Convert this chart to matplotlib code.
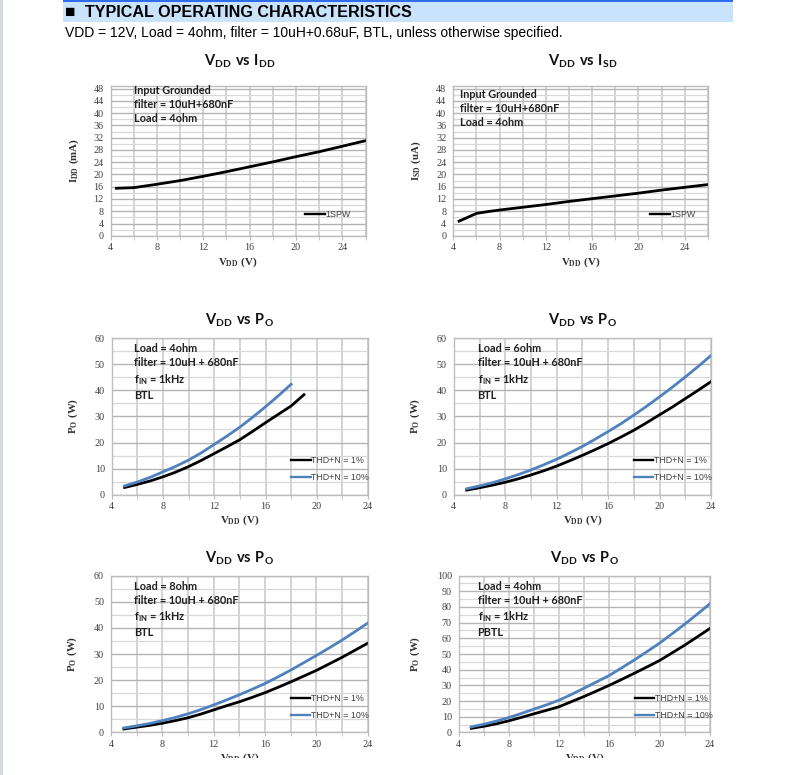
import matplotlib
matplotlib.use("Agg")
import matplotlib.pyplot as plt
from matplotlib.patches import Rectangle
from matplotlib.ticker import MultipleLocator

plt.rcParams["mathtext.fontset"] = "custom"
plt.rcParams["mathtext.rm"] = "Liberation Serif:bold"
plt.rcParams["mathtext.sf"] = "Lato:bold"
plt.rcParams["mathtext.bf"] = "Lato:bold"

# ---- data ----
vdd_idd = [4.5, 6, 8, 10, 12, 14, 16, 18, 20, 22, 24, 26]
idd_ma = [15.5, 15.7, 16.8, 18.0, 19.4, 20.9, 22.5, 24.1, 25.8, 27.4, 29.2, 31.0]

vdd_isd = [4.5, 5, 6, 7, 8, 10, 12, 14, 16, 18, 20, 22, 24, 26]
isd_ua = [4.8, 5.6, 7.3, 7.9, 8.4, 9.3, 10.2, 11.2, 12.1, 13.0, 13.9, 14.9, 15.8, 16.7]

# BTL 4ohm
vdd_4_1 = [5, 6, 7, 8, 9, 10, 11, 12, 13, 14, 15, 16, 17, 18, 19]
po_4_1 = [2.8, 4.0, 5.3, 6.9, 8.7, 10.8, 13.2, 15.8, 18.4, 21.1, 24.3, 27.6, 30.8, 34.0, 38.3]
vdd_4_10 = [5, 6, 7, 8, 9, 10, 11, 12, 13, 14, 15, 16, 17, 18]
po_4_10 = [3.4, 4.9, 6.7, 8.8, 10.9, 13.3, 16.1, 19.3, 22.5, 25.9, 29.7, 33.7, 37.9, 42.3]

vdd_full = [5, 6, 7, 8, 9, 10, 11, 12, 13, 14, 15, 16, 17, 18, 19, 20, 21, 22, 23, 24]
# BTL 6ohm
po_6_1 = [1.8, 2.7, 3.7, 4.8, 6.1, 7.6, 9.2, 11.0, 13.0, 15.1, 17.3, 19.6, 22.1, 24.7, 27.6, 30.6, 33.6, 36.8, 40.0, 43.3]
po_6_10 = [2.3, 3.4, 4.6, 6.1, 7.7, 9.5, 11.5, 13.6, 16.0, 18.5, 21.3, 24.2, 27.2, 30.5, 33.9, 37.5, 41.2, 45.1, 49.1, 53.3]
# BTL 8ohm
po_8_1 = [1.3, 2.0, 2.7, 3.5, 4.5, 5.6, 7.0, 8.6, 10.2, 11.7, 13.4, 15.2, 17.2, 19.3, 21.5, 23.7, 26.2, 28.7, 31.4, 34.1]
po_8_10 = [1.7, 2.5, 3.4, 4.5, 5.7, 7.1, 8.7, 10.5, 12.4, 14.4, 16.5, 18.7, 21.2, 23.8, 26.6, 29.4, 32.3, 35.3, 38.5, 41.8]
# PBTL 4ohm
po_p4_1 = [2.6, 3.9, 5.5, 7.4, 9.6, 11.9, 14.1, 16.4, 19.7, 23.0, 26.5, 30.1, 33.9, 37.8, 41.8, 45.9, 50.8, 55.7, 61.0, 66.3]
po_p4_10 = [3.5, 5.2, 7.2, 9.5, 12.1, 14.9, 17.6, 20.6, 24.3, 28.3, 32.3, 36.4, 41.3, 46.3, 51.6, 57.0, 63.0, 69.1, 75.5, 82.1]

thd_labels = ["THD+N = 1%", "THD+N = 10%"]
note_idd = ["Input Grounded", "filter = 10uH+680nF", "Load = 4ohm"]

BLACK = "#000000"
BLUE = "#4f81bd"

W, H = 792, 775
fig = plt.figure(figsize=(W / 100, H / 100), dpi=100)


def add_ax(left, right, top, bottom):
    return fig.add_axes([left / W, 1 - bottom / H, (right - left) / W, (bottom - top) / H])


def style(ax, xmax, ymax, ymaj, ymin_step, xlabel, ylabel, ylab_px, xlab_px):
    ax.set_xlim(4, xmax)
    ax.set_ylim(0, ymax)
    ax.xaxis.set_major_locator(MultipleLocator(4))
    ax.xaxis.set_minor_locator(MultipleLocator(2))
    ax.yaxis.set_major_locator(MultipleLocator(ymaj))
    ax.yaxis.set_minor_locator(MultipleLocator(ymin_step))
    ax.grid(which="major", axis="y", color="#b4b4b4", lw=1.0)
    ax.grid(which="minor", axis="y", color="#d8d8d8", lw=0.9)
    ax.grid(which="both", axis="x", color="#d3d3d3", lw=1.4)
    ax.set_axisbelow(True)
    for s in ax.spines.values():
        s.set_color("#bdbdbd")
        s.set_linewidth(1.0)
    ax.tick_params(axis="x", which="both", direction="out", length=3, color="#bdbdbd", pad=2.5)
    ax.tick_params(axis="y", which="both", length=0, pad=5)
    for lab in ax.get_xticklabels() + ax.get_yticklabels():
        lab.set_fontfamily("Liberation Serif")
        lab.set_fontsize(7.3)
        lab.set_color("#404040")
    ax.set_xlabel(xlabel, fontsize=7.8, color="#303030")
    ax.set_ylabel(ylabel, fontsize=7.8, color="#303030")
    bb = ax.get_position()
    ax.yaxis.set_label_coords(-ylab_px / (bb.width * W), 0.5)
    ax.xaxis.set_label_coords(0.5, -xlab_px / (bb.height * H))


def note(ax, x, y, lines):
    ax.text(x, y, "\n".join(lines), fontsize=7.8, fontfamily="Lato", fontweight="bold",
            color="#202020", va="top", ha="left", linespacing=1.33)


def legend(ax, x, y, spacing=0.75):
    leg = ax.legend(loc="center left", bbox_to_anchor=(x, y), frameon=False,
                    borderpad=0, borderaxespad=0, handlelength=2.2, handletextpad=0.05,
                    labelspacing=spacing, prop={"family": "Liberation Sans", "size": 6.4})
    for t in leg.get_texts():
        t.set_color("#404040")
    for h in leg.get_lines():
        h.set_linewidth(1.7)


def title(x, y, s):
    fig.text(x / W, 1 - y / H, s, fontsize=10.5, ha="center", va="center", color="#111111")


# ---- header ----
fig.add_artist(Rectangle((0, 0), 2.5 / W, 1, transform=fig.transFigure, color="#d5dbe0", lw=0))
fig.add_artist(Rectangle((63 / W, 1 - 22 / H), 670 / W, 22 / H, transform=fig.transFigure,
                         color="#c9e3fd", lw=0))
fig.add_artist(Rectangle((63 / W, 1 - 1.5 / H), 670 / W, 1.5 / H, transform=fig.transFigure,
                         color="#2f6cf0", lw=0))
fig.text(65 / W, 1 - 12.5 / H, "■", fontsize=12.5, family=["Liberation Sans", "DejaVu Sans"],
         va="center", ha="left")
fig.text(85 / W, 1 - 12.5 / H, "TYPICAL OPERATING CHARACTERISTICS", fontsize=11.6,
         family="Liberation Sans", fontweight="bold", va="center", ha="left")
fig.text(65 / W, 1 - 33.5 / H,
         "VDD = 12V, Load = 4ohm, filter = 10uH+0.68uF, BTL, unless otherwise specified.",
         fontsize=10, family="Liberation Sans", va="center", ha="left")

# ---- VDD vs IDD ----
ax = add_ax(110.6, 365.5, 85.5, 235.8)
ax.plot(vdd_idd, idd_ma, color=BLACK, lw=2.0, label="1SPW")
style(ax, 26, 49, 4, 2, r"$\mathrm{V_{DD}\ (V)}$", r"$\mathrm{I_{DD}\ (mA)}$", 30, 20)
note(ax, 6.0, 49.1, note_idd)
legend(ax, 0.764, 0.139)
title(240, 61, r"$\mathsf{V_{DD}\ vs\ I_{DD}}$")

# ---- VDD vs ISD ----
ax = add_ax(453.3, 707.8, 85.5, 235.8)
ax.plot(vdd_isd, isd_ua, color=BLACK, lw=2.0, label="1SPW")
style(ax, 26, 49, 4, 2, r"$\mathrm{V_{DD}\ (V)}$", r"$\mathrm{I_{SD}\ (uA)}$", 30, 20)
note(ax, 4.6, 47.9, note_idd)
legend(ax, 0.773, 0.139)
title(583, 61, r"$\mathsf{V_{DD}\ vs\ I_{SD}}$")


def po_panel(left, right, top, bottom, ymax, ymaj, ymin_step, y1, y10, x1, x10,
             lines, nx, ny, ly, ylab_px, ttl_y):
    ax = add_ax(left, right, top, bottom)
    ax.plot(x1, y1, color=BLACK, lw=2.0, label=thd_labels[0])
    ax.plot(x10, y10, color=BLUE, lw=2.0, label=thd_labels[1])
    style(ax, 24, ymax, ymaj, ymin_step, r"$\mathrm{V_{DD}\ (V)}$", r"$\mathrm{P_{O}\ (W)}$",
          ylab_px, 19)
    note(ax, nx, ny, lines)
    legend(ax, 0.70, ly, spacing=0.9)
    title((left + right) / 2, ttl_y, r"$\mathsf{V_{DD}\ vs\ P_{O}}$")
    return ax


fin = r"f$_{\mathsf{IN}}$ = 1kHz"
po_panel(111.8, 368, 338, 494.8, 60, 10, 5, po_4_1, po_4_10, vdd_4_1, vdd_4_10,
         ["Load = 4ohm", "filter = 10uH + 680nF", fin, "BTL"], 5.75, 57.9, 0.165, 32, 320)
po_panel(453.8, 711, 338, 494.8, 60, 10, 5, po_6_1, po_6_10, vdd_full, vdd_full,
         ["Load = 6ohm", "filter = 10uH + 680nF", fin, "BTL"], 5.85, 57.9, 0.165, 32, 320)
po_panel(111, 367.6, 575.6, 732.4, 60, 10, 5, po_8_1, po_8_10, vdd_full, vdd_full,
         ["Load = 8ohm", "filter = 10uH + 680nF", fin, "BTL"], 5.8, 58.0, 0.161, 32, 558)
po_panel(458.7, 710, 575.6, 732.4, 100, 10, 5, po_p4_1, po_p4_10, vdd_full, vdd_full,
         ["Load = 4ohm", "filter = 10uH + 680nF", fin, "PBTL"], 5.5, 96.7, 0.16, 37, 558)

# page is cut off just under the bottom row
fig.add_artist(Rectangle((2.5 / W, 0), 1, 17 / H, transform=fig.transFigure, color="white",
                         lw=0, zorder=10))

fig.savefig("out.png", dpi=100)
